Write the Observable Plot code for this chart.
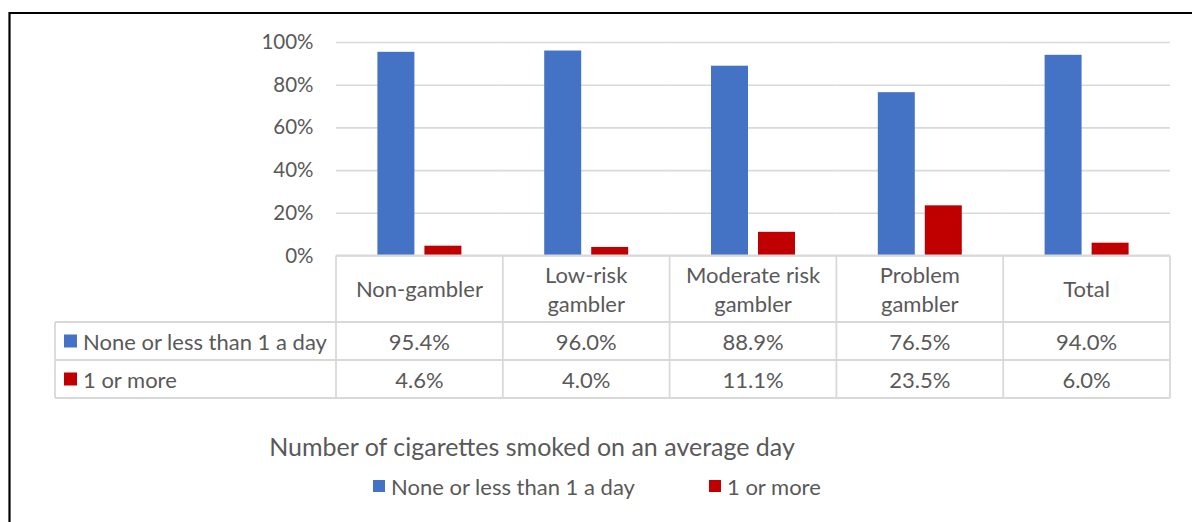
<!DOCTYPE html>
<html>
<head>
<meta charset="utf-8">
<script src="https://cdn.jsdelivr.net/npm/d3@7"></script>
<script src="https://cdn.jsdelivr.net/npm/@observablehq/plot@0.6"></script>
<style>
  html, body { margin: 0; padding: 0; background: #fff; }
  #chart svg { display: block; overflow: visible; }
</style>
</head>
<body>
<div id="chart"></div>
<script>
// Gambler groups and the two smoking categories
const categories = ["Non-gambler", "Low-risk gambler", "Moderate risk gambler", "Problem gambler", "Total"];
const headerLines = [["Non-gambler"], ["Low-risk", "gambler"], ["Moderate risk", "gambler"], ["Problem", "gambler"], ["Total"]];
const series = ["None or less than 1 a day", "1 or more"];
const noneOrLess = [95.4, 96.0, 88.9, 76.5, 94.0];
const oneOrMore = [4.6, 4.0, 11.1, 23.5, 6.0];
const yTicks = [0, 20, 40, 60, 80, 100];
const axisTitle = "Number of cigarettes smoked on an average day";

const colors = ["#4472C4", "#C00000"];
const textColor = "#595959";
const lineColor = "#d9d9d9";
const font = "Lato, 'Open Sans', sans-serif";
const cellFont = 22;

const seriesValues = [noneOrLess, oneOrMore];
const rows = [];
categories.forEach((c, i) => {
  series.forEach((s, j) => rows.push({category: c, series: s, value: seriesValues[j][i]}));
});

const W = 1192, H = 522;
const chart = Plot.plot({
  width: W,
  height: H,
  marginTop: 42,
  marginBottom: 266.5,
  marginLeft: 336,
  marginRight: 22,
  style: {fontFamily: font, fontSize: "20.5px", color: textColor, background: "transparent"},
  fx: {domain: categories, padding: 0, round: false, axis: null},
  x: {domain: series, paddingInner: 0.213, paddingOuter: 0.881, round: false, axis: null},
  y: {domain: [0, 100], label: null},
  color: {domain: series, range: colors},
  marks: [
    Plot.gridY(yTicks, {stroke: lineColor, strokeOpacity: 1, strokeWidth: 1.6}),
    Plot.axisY(yTicks, {tickSize: 0, tickPadding: 23, tickFormat: d => d + "%", label: null, fill: textColor, fontSize: 20.5}),
    Plot.barY(rows, {fx: "category", x: "series", y: "value", fill: "series"})
  ]
});
document.getElementById("chart").appendChild(chart);

// Data table under the bars, aligned to the facet columns
const fxDesc = chart.scale("fx");
const fx = d3.scaleBand().domain(fxDesc.domain).range(fxDesc.range)
  .paddingInner(fxDesc.paddingInner ?? 0).paddingOuter(fxDesc.paddingOuter ?? 0);
const yDesc = chart.scale("y");
const y = d3.scaleLinear().domain(yDesc.domain).range(yDesc.range);

const svg = d3.select(chart);
const g = svg.append("g").attr("font-family", font).attr("fill", textColor).attr("text-anchor", "start");

const colLeft = fx.range()[0], colRight = fx.range()[1];
const tableLeft = 55;
const headTop = y(0), headBottom = headTop + 66.5;
const rowH = 38;
const rowTops = [headBottom, headBottom + rowH];
const tableBottom = headBottom + 2 * rowH;

const lines = g.append("g").attr("stroke", lineColor).attr("stroke-width", 1.8);
lines.append("line").attr("x1", colLeft).attr("x2", colRight).attr("y1", headTop).attr("y2", headTop);
[headBottom, headBottom + rowH, tableBottom].forEach(yy =>
  lines.append("line").attr("x1", tableLeft).attr("x2", colRight).attr("y1", yy).attr("y2", yy));
categories.forEach(c => {
  const x0 = fx(c);
  lines.append("line").attr("x1", x0).attr("x2", x0).attr("y1", headTop).attr("y2", tableBottom);
});
lines.append("line").attr("x1", colRight).attr("x2", colRight).attr("y1", headTop).attr("y2", tableBottom);
lines.append("line").attr("x1", tableLeft).attr("x2", tableLeft).attr("y1", headBottom).attr("y2", tableBottom);

// Column headers
categories.forEach((c, i) => {
  const cx = fx(c) + fx.bandwidth() / 2;
  const ls = headerLines[i];
  const mid = (headTop + headBottom) / 2;
  ls.forEach((t, k) => {
    g.append("text").attr("x", cx).attr("y", mid + (k - (ls.length - 1) / 2) * 29)
      .attr("text-anchor", "middle").attr("dominant-baseline", "central")
      .attr("font-size", cellFont).text(t);
  });
});

// Series rows with legend keys and formatted values
series.forEach((s, j) => {
  const cy = rowTops[j] + rowH / 2;
  g.append("rect").attr("x", 64).attr("y", cy - 6.5).attr("width", 13).attr("height", 13).attr("fill", colors[j]);
  g.append("text").attr("x", 83).attr("y", cy).attr("text-anchor", "start").attr("dominant-baseline", "central")
    .attr("font-size", cellFont).text(s);
  categories.forEach((c, i) => {
    g.append("text").attr("x", fx(c) + fx.bandwidth() / 2).attr("y", cy)
      .attr("text-anchor", "middle").attr("dominant-baseline", "central")
      .attr("font-size", cellFont).text(d3.format(".1f")(seriesValues[j][i]) + "%");
  });
});

// Axis title and legend
g.append("text").attr("x", 532).attr("y", 446).attr("text-anchor", "middle")
  .attr("dominant-baseline", "central").attr("font-size", 25).text(axisTitle);
const legendX = [373, 709];
series.forEach((s, j) => {
  g.append("rect").attr("x", legendX[j]).attr("y", 480).attr("width", 12).attr("height", 12).attr("fill", colors[j]);
  g.append("text").attr("x", legendX[j] + 18).attr("y", 486).attr("text-anchor", "start").attr("dominant-baseline", "central")
    .attr("font-size", cellFont).text(s);
});

// Outer frame
svg.append("path").attr("d", `M9.5,${H} V13 H${W}`).attr("fill", "none").attr("stroke", "#000").attr("stroke-width", 2.2);
</script>
</body>
</html>
